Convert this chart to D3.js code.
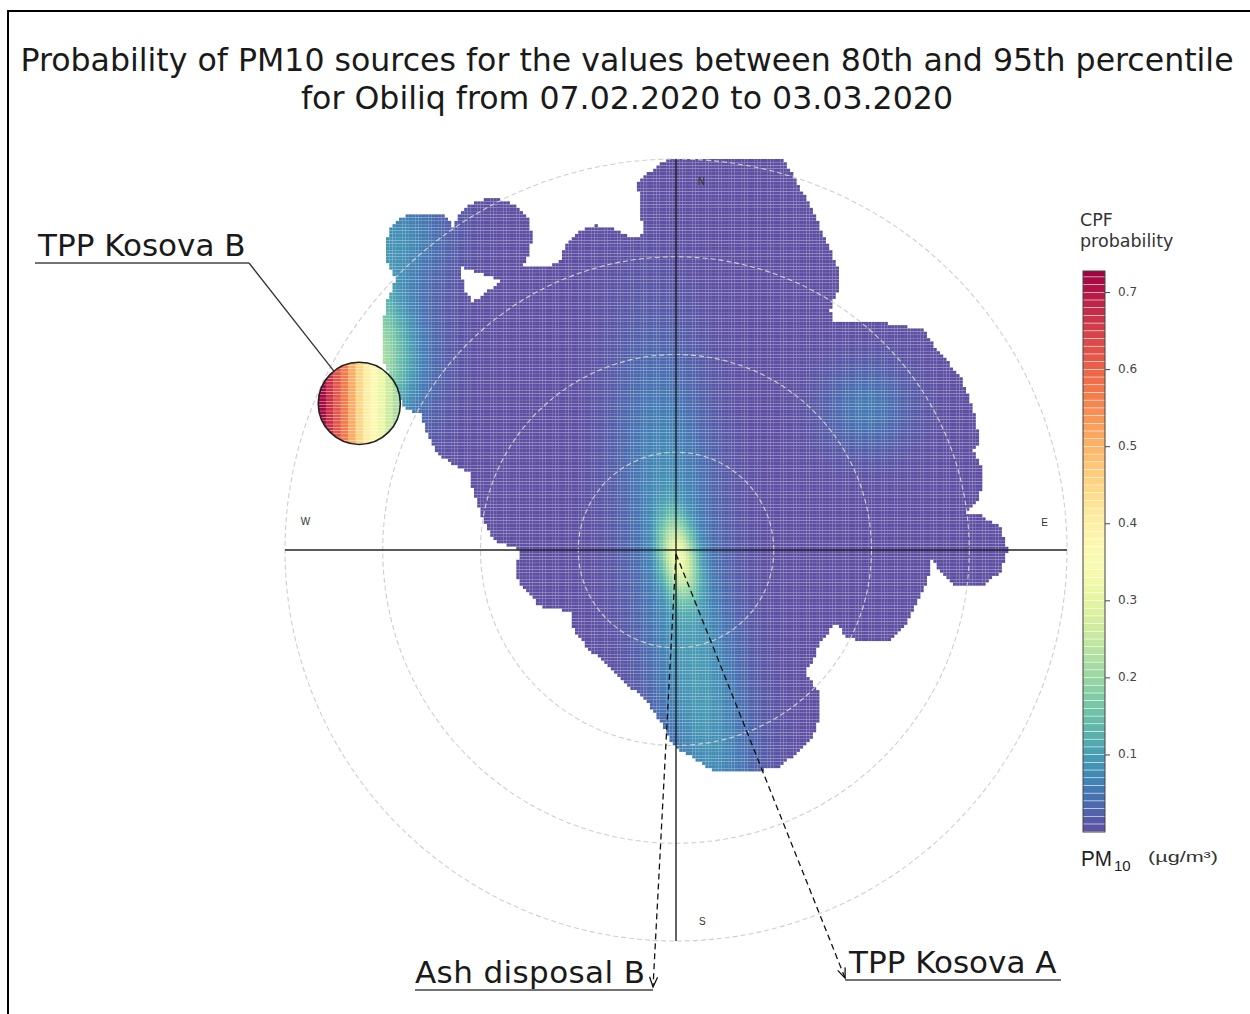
<!DOCTYPE html>
<html><head><meta charset="utf-8">
<script src="https://cdn.jsdelivr.net/npm/d3@7"></script>
<style>body{margin:0;background:#fff}svg{display:block}</style>
</head><body>
<svg id="c" width="1250" height="1014"></svg>
<script>
// ---------------- data ----------------
const titleLines = [
  "Probability of PM10 sources for the values between 80th and 95th percentile",
  "for Obiliq from 07.02.2020 to 03.03.2020"
];
const ringValues = [1, 2, 3, 4];
const compassLabels = ["N", "E", "S", "W"];
const compassU = [0.26, 3.77, 0.27, -3.79];
const compassV = [3.76, 0.27, -3.81, 0.28];

// outline of the plotted (non-missing) region, in wind-speed units (u east, v north)
const outlineU = [-0.06,1.08,1.17,1.30,1.42,1.50,1.65,1.68,1.58,1.61,1.88,2.16,2.53,2.67,2.91,3.04,3.11,3.04,3.14,3.11,2.98,3.11,3.31,3.40,3.31,3.11,2.83,2.67,2.62,2.57,2.47,2.36,2.19,1.95,1.75,1.63,1.58,1.47,1.40,1.32,1.37,1.47,1.47,1.40,1.24,1.06,0.89,0.69,0.35,0.21,0.04,-0.06,-0.13,-0.24,-0.34,-0.54,-0.68,-0.85,-0.98,-1.06,-1.08,-1.39,-1.52,-1.62,-1.62,-1.57,-1.67,-1.87,-1.97,-2.08,-2.11,-2.24,-2.45,-2.55,-2.62,-2.75,-2.82,-2.93,-3.00,-3.01,-2.96,-2.87,-2.95,-2.97,-2.93,-2.82,-2.69,-2.43,-2.33,-2.29,-2.18,-2.01,-1.83,-1.65,-1.51,-1.47,-1.51,-1.58,-1.44,-1.27,-1.18,-1.13,-1.01,-0.83,-0.64,-0.52,-0.42,-0.32,-0.36,-0.39,-0.28,-0.13];
const outlineV = [4.00,4.00,3.89,3.65,3.43,3.24,2.90,2.73,2.46,2.35,2.34,2.32,2.25,2.05,1.77,1.46,1.09,1.02,0.82,0.54,0.38,0.36,0.24,0.00,-0.24,-0.38,-0.36,-0.20,-0.07,-0.34,-0.54,-0.75,-0.92,-0.95,-0.89,-0.75,-0.82,-0.95,-1.13,-1.23,-1.33,-1.46,-1.71,-1.91,-2.08,-2.22,-2.25,-2.25,-2.25,-2.15,-2.05,-1.94,-1.81,-1.64,-1.50,-1.36,-1.20,-1.05,-0.92,-0.79,-0.63,-0.58,-0.44,-0.31,-0.10,-0.03,0.03,0.10,0.31,0.61,0.79,0.85,0.99,1.20,1.40,1.43,1.53,1.77,1.94,2.28,2.53,2.76,2.92,3.10,3.27,3.40,3.45,3.45,3.38,3.30,3.48,3.58,3.60,3.53,3.38,3.19,3.02,2.88,2.91,2.91,2.97,3.12,3.25,3.32,3.29,3.23,3.19,3.25,3.41,3.75,3.86,3.97];
// missing-data hole inside the region
const holeU = [-2.21,-1.95,-1.78,-2.08,-2.16];
const holeV = [2.90,2.81,2.76,2.53,2.66];

// CPF source kernels
const srcName  = ["core", "south trail", "north", "west", "NW lobe", "east"];
const srcU     = [0.03, 0.22, -0.10, -3.30, -2.85, 1.95];
const srcV     = [-0.08, -1.35, 1.00, 1.95, 3.20, 1.45];
const srcAlong = [0.28, 1.30, 0.90, 0.40, 0.35, 0.30];
const srcAcross= [0.12, 0.32, 0.32, 0.55, 0.35, 0.30];
const srcBearing=[170, 170.5, 355, 90, 0, 0];
const srcPeak  = [0.24, 0.095, 0.055, 0.30, 0.07, 0.055];

// magnified inset near TPP Kosova B
const insetU = -3.24, insetV = 1.50, insetR = 0.42;
const insetValues = [0.72, 0.67, 0.62, 0.57, 0.51, 0.45, 0.40, 0.36, 0.31, 0.26, 0.22];

const colorTicks = [0.1, 0.2, 0.3, 0.4, 0.5, 0.6, 0.7];
const colorMax = 0.728;

const annoLabels = ["TPP Kosova B", "Ash disposal B", "TPP Kosova A"];
const arrowTipU = [-0.235, 1.73];
const arrowTipV = [-4.47, -4.38];

// ---------------- layout ----------------
const cx = 676, cy = 550, R = 391;
const x = d3.scaleLinear().domain([-4, 4]).range([cx - R, cx + R]);
const y = d3.scaleLinear().domain([-4, 4]).range([cy + R, cy - R]);
const color = d3.scaleSequential(t => d3.interpolateSpectral(1 - t)).domain([0, colorMax]).clamp(true);
const FONT = "DejaVu Sans";

const svg = d3.select("#c");
svg.append("rect").attr("width", 1250).attr("height", 1014).attr("fill", "#fff");
svg.append("rect").attr("x", 8).attr("y", 11).attr("width", 1400).attr("height", 1200)
  .attr("fill", "none").attr("stroke", "#000").attr("stroke-width", 2);

svg.selectAll("text.title").data(titleLines).join("text").attr("class", "title")
  .attr("x", 627).attr("y", (d, i) => 71 + i * 38)
  .attr("text-anchor", "middle").attr("font-family", FONT).attr("font-size", 31.6)
  .attr("fill", "#1a1a1a").text(d => d);

// field
function field(u, v) {
  let s = 0;
  for (let k = 0; k < srcU.length; k++) {
    const b = srcBearing[k] * Math.PI / 180;
    const du = u - srcU[k], dv = v - srcV[k];
    const a = du * Math.sin(b) + dv * Math.cos(b);
    const c = du * Math.cos(b) - dv * Math.sin(b);
    s += srcPeak[k] * Math.exp(-0.5 * (a * a / (srcAlong[k] ** 2) + c * c / (srcAcross[k] ** 2)));
  }
  return s;
}
const poly = outlineU.map((u, i) => [u, outlineV[i]]);
const hole = holeU.map((u, i) => [u, holeV[i]]);
const NG = 240, step = 8 / NG;
const cells = [];
for (let i = 0; i < NG; i++) for (let j = 0; j < NG; j++) {
  const u = -4 + (i + 0.5) * step, v = -4 + (j + 0.5) * step;
  if (d3.polygonContains(poly, [u, v]) && !d3.polygonContains(hole, [u, v]))
    cells.push({u, v, val: field(u, v)});
}
const cw = x(step) - x(0);
svg.append("g").selectAll("rect").data(cells).join("rect")
  .attr("x", d => x(d.u - step / 2)).attr("y", d => y(d.v + step / 2))
  .attr("width", cw + 0.05).attr("height", cw * 0.95)
  .attr("fill", d => color(d.val));

// rings
svg.append("g").selectAll("circle").data(ringValues).join("circle")
  .attr("cx", x(0)).attr("cy", y(0)).attr("r", d => x(d) - x(0))
  .attr("fill", "none").attr("stroke", "#cfcfcf").attr("stroke-width", 1.1)
  .attr("stroke-dasharray", "5,3");

// axes
const ax = svg.append("g").attr("stroke", "#222").attr("stroke-width", 1.4);
ax.append("line").attr("x1", x(-4)).attr("x2", x(4)).attr("y1", y(0)).attr("y2", y(0));
ax.append("line").attr("x1", x(0)).attr("x2", x(0)).attr("y1", y(4)).attr("y2", y(-4));

svg.selectAll("text.cmp").data(compassLabels).join("text").attr("class", "cmp")
  .attr("x", (d, i) => x(compassU[i])).attr("y", (d, i) => y(compassV[i]))
  .attr("text-anchor", "middle").attr("dominant-baseline", "middle")
  .attr("font-family", "Liberation Sans").attr("font-size", 10).attr("fill", "#333").text(d => d);

// inset
const icx = x(insetU), icy = y(insetV), ir = x(insetR) - x(0);
svg.append("clipPath").attr("id", "ic").append("circle").attr("cx", icx).attr("cy", icy).attr("r", ir);
const colW = 2 * ir / insetValues.length;
const insetCells = [];
insetValues.forEach((val, c) => {
  for (let k = 0; k * cw < 2 * ir + cw; k++) insetCells.push({c, k, val});
});
svg.append("g").attr("clip-path", "url(#ic)").selectAll("rect").data(insetCells).join("rect")
  .attr("x", d => icx - ir + d.c * colW).attr("y", d => icy - ir + d.k * cw)
  .attr("width", colW + 0.3).attr("height", cw * 0.9).attr("fill", d => color(d.val));
svg.append("circle").attr("cx", icx).attr("cy", icy).attr("r", ir)
  .attr("fill", "none").attr("stroke", "#222").attr("stroke-width", 1.6);

// annotations
const anno = svg.append("g").attr("font-family", FONT).attr("font-size", 31).attr("fill", "#1a1a1a");
// TPP Kosova B
anno.append("text").attr("x", 38).attr("y", 256).text(annoLabels[0]);
anno.append("line").attr("x1", 35).attr("x2", 249).attr("y1", 263).attr("y2", 263)
  .attr("stroke", "#444").attr("stroke-width", 1.6);
{
  const sx = 249, sy = 263;
  const dx = sx - icx, dy = sy - icy, L = Math.hypot(dx, dy);
  anno.append("line").attr("x1", sx).attr("y1", sy)
    .attr("x2", icx + ir * dx / L).attr("y2", icy + ir * dy / L)
    .attr("stroke", "#333").attr("stroke-width", 1.3);
}
// arrows
function arrow(tu, tv) {
  const x0 = x(0), y0 = y(-0.04), x1 = x(tu), y1 = y(tv);
  anno.append("line").attr("x1", x0).attr("y1", y0).attr("x2", x1).attr("y2", y1)
    .attr("stroke", "#111").attr("stroke-width", 1.3).attr("stroke-dasharray", "6,4");
  const L = Math.hypot(x1 - x0, y1 - y0), ux = (x1 - x0) / L, uy = (y1 - y0) / L;
  const hx = x1 - 10 * ux, hy = y1 - 10 * uy;
  anno.append("path").attr("d",
    `M${hx - 4 * uy},${hy + 4 * ux}L${x1},${y1}L${hx + 4 * uy},${hy - 4 * ux}`)
    .attr("fill", "none").attr("stroke", "#111").attr("stroke-width", 1.3);
}
arrow(arrowTipU[0], arrowTipV[0]);
arrow(arrowTipU[1], arrowTipV[1]);
anno.append("text").attr("x", 415).attr("y", 983).attr("textLength", 230).text(annoLabels[1]);
anno.append("line").attr("x1", 415).attr("x2", x(arrowTipU[0])).attr("y1", 990).attr("y2", 990)
  .attr("stroke", "#444").attr("stroke-width", 1.6);
anno.append("text").attr("x", 849).attr("y", 973).text(annoLabels[2]);
anno.append("line").attr("x1", x(arrowTipU[1])).attr("x2", 1061).attr("y1", 980).attr("y2", 980)
  .attr("stroke", "#444").attr("stroke-width", 1.6);

// colour key
const cbX = 1083, cbW = 22;
const cbY = d3.scaleLinear().domain([0, colorMax]).range([832, 271]);
const bands = d3.range(0, colorMax, 0.01);
const key = svg.append("g");
key.selectAll("rect.b").data(bands).join("rect").attr("class", "b")
  .attr("x", cbX).attr("width", cbW)
  .attr("y", d => cbY(Math.min(d + 0.01, colorMax))).attr("height", d => cbY(d) - cbY(Math.min(d + 0.01, colorMax)) - 0.6)
  .attr("fill", d => color(d + 0.005));
key.append("rect").attr("x", cbX).attr("y", cbY(colorMax)).attr("width", cbW).attr("height", cbY(0) - cbY(colorMax))
  .attr("fill", "none").attr("stroke", "#444").attr("stroke-width", 1);
key.selectAll("line.t").data(colorTicks).join("line").attr("class", "t")
  .attr("x1", cbX + cbW).attr("x2", cbX + cbW + 5).attr("y1", d => cbY(d)).attr("y2", d => cbY(d))
  .attr("stroke", "#444");
key.selectAll("text.t").data(colorTicks).join("text").attr("class", "t")
  .attr("x", 1118).attr("y", d => cbY(d)).attr("dominant-baseline", "middle")
  .attr("font-family", FONT).attr("font-size", 12).attr("fill", "#444")
  .text(d => d3.format(".1f")(d));
key.append("text").attr("x", 1080).attr("y", 226).attr("font-family", FONT)
  .attr("font-size", 17.5).attr("fill", "#333").text("CPF");
key.append("text").attr("x", 1080).attr("y", 247).attr("font-family", FONT)
  .attr("font-size", 17.5).attr("fill", "#333").text("probability");
key.append("text").attr("x", 1081).attr("y", 866).attr("font-family", "Liberation Sans")
  .attr("font-size", 22).attr("fill", "#222").attr("textLength", 31).attr("lengthAdjust", "spacingAndGlyphs").text("PM");
key.append("text").attr("x", 1114).attr("y", 871).attr("font-family", "Liberation Sans")
  .attr("font-size", 15).attr("fill", "#222").text("10");
key.append("text").attr("x", 1148).attr("y", 862).attr("font-family", "Liberation Sans")
  .attr("font-size", 15).attr("fill", "#333").attr("textLength", 70).attr("lengthAdjust", "spacingAndGlyphs").text("(µg/m³)");
</script>
</body></html>
